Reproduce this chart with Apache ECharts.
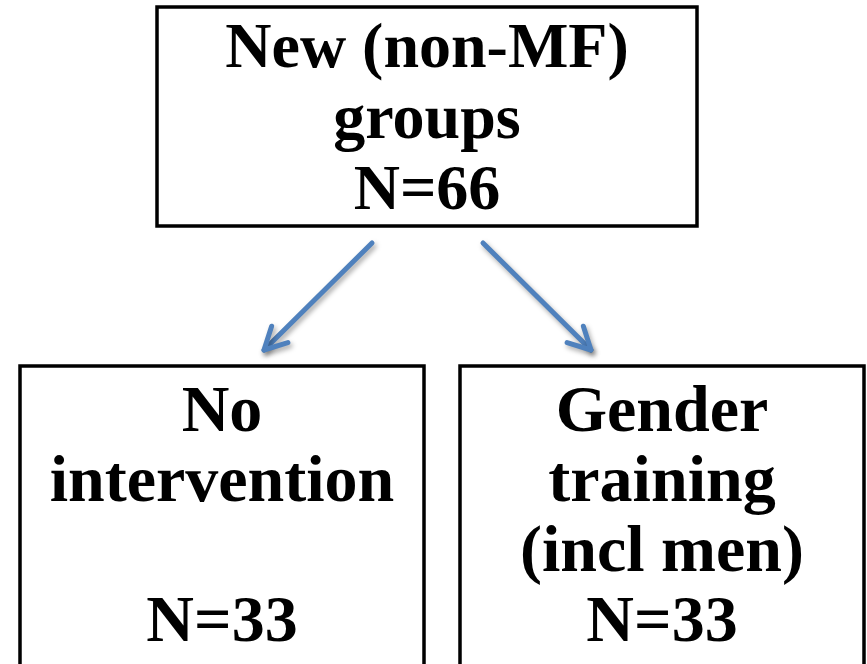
<!DOCTYPE html>
<html>
<head>
<meta charset="utf-8">
<script src="https://cdn.jsdelivr.net/npm/echarts@6/dist/echarts.min.js"></script>
<style>
  html, body { margin: 0; padding: 0; background: #fff; }
  #main { width: 867px; height: 664px; }
</style>
</head>
<body>
<div id="main"></div>
<script>
  // Boxes of the flow diagram
  var boxNames = ['New (non-MF)\ngroups\nN=66', 'No\nintervention\n\nN=33', 'Gender\ntraining\n(incl men)\nN=33'];
  var boxLeft = [157, 20, 460];
  var boxTop = [7, 366, 366];
  var boxRight = [697, 424, 864];
  var boxBottom = [226, 690, 690];
  // Arrows from the top box to the two branches
  var arrowFrom = [[372, 243], [483, 243]];
  var arrowTo = [[264, 350], [591, 350]];

  var boxData = boxNames.map(function (name, i) {
    return [boxLeft[i], boxTop[i], boxRight[i], boxBottom[i], name, i];
  });
  var arrowData = arrowFrom.map(function (p, i) {
    return [p[0], p[1], arrowTo[i][0], arrowTo[i][1]];
  });

  var chart = echarts.init(document.getElementById('main'));
  var option = {
    backgroundColor: '#fff',
    animation: false,
    grid: { left: 0, right: 0, top: 0, bottom: 0 },
    xAxis: { type: 'value', min: 0, max: 867, show: false },
    yAxis: { type: 'value', min: 0, max: 664, inverse: true, show: false },
    series: [{
      type: 'custom',
      data: boxData,
      clip: false,
      renderItem: function (params, api) {
        var p0 = api.coord([api.value(0), api.value(1)]);
        var p1 = api.coord([api.value(2), api.value(3)]);
        var isTop = api.value(5) === 0;
        var cx = (p0[0] + p1[0]) / 2;
        return {
          type: 'group',
          children: [{
            type: 'rect',
            shape: { x: p0[0], y: p0[1], width: p1[0] - p0[0], height: p1[1] - p0[1] },
            style: { fill: '#fff', stroke: '#000', lineWidth: 3.5 }
          }, {
            type: 'text',
            style: {
              x: cx,
              y: isTop ? (p0[1] + p1[1]) / 2 + 5 : p0[1] + 13,
              text: boxNames[api.value(5)],
              fill: '#000',
              align: 'center',
              verticalAlign: isTop ? 'middle' : 'top',
              fontFamily: 'Liberation Serif',
              fontWeight: 'bold',
              fontSize: isTop ? 64 : 66,
              lineHeight: isTop ? 71 : 70
            }
          }]
        };
      }
    }, {
      type: 'custom',
      data: arrowData,
      clip: false,
      renderItem: function (params, api) {
        var a = api.coord([api.value(0), api.value(1)]);
        var b = api.coord([api.value(2), api.value(3)]);
        var ang = Math.atan2(b[1] - a[1], b[0] - a[0]);
        var len = 25, spread = 0.48;
        var h1 = [b[0] - len * Math.cos(ang - spread), b[1] - len * Math.sin(ang - spread)];
        var h2 = [b[0] - len * Math.cos(ang + spread), b[1] - len * Math.sin(ang + spread)];
        var st = {
          stroke: '#4F81BD', lineWidth: 5, fill: null, lineJoin: 'round', lineCap: 'round',
          shadowBlur: 5, shadowColor: 'rgba(0,0,0,0.35)', shadowOffsetX: 2, shadowOffsetY: 3
        };
        return {
          type: 'group',
          children: [{
            type: 'line',
            shape: { x1: a[0], y1: a[1], x2: b[0], y2: b[1] },
            style: st
          }, {
            type: 'polyline',
            shape: { points: [h1, b, h2] },
            style: st
          }]
        };
      }
    }]
  };
  chart.setOption(option);
</script>
</body>
</html>
